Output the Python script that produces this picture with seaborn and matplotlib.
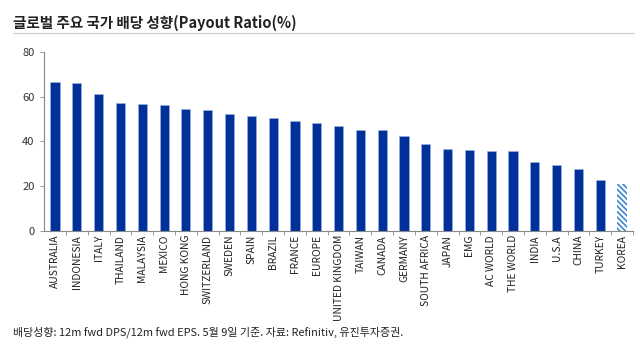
import matplotlib
matplotlib.use("Agg")
import matplotlib.pyplot as plt
import seaborn as sns
import numpy as np
import pandas as pd

countries = ["AUSTRALIA", "INDONESIA", "ITALY", "THAILAND", "MALAYSIA", "MEXICO",
             "HONG KONG", "SWITZERLAND", "SWEDEN", "SPAIN", "BRAZIL", "FRANCE",
             "EUROPE", "UNITED KINGDOM", "TAIWAN", "CANADA", "GERMANY",
             "SOUTH AFRICA", "JAPAN", "EMG", "AC WORLD", "THE WORLD", "INDIA",
             "U.S.A", "CHINA", "TURKEY", "KOREA"]
payout = [66.4, 66.0, 61.0, 57.2, 56.7, 56.1, 54.3, 53.9, 52.1, 51.5, 50.6, 49.0,
          48.3, 46.9, 45.2, 44.9, 42.3, 38.8, 36.6, 36.1, 35.7, 35.6, 30.9,
          29.3, 27.8, 22.6, 21.0]
yticks = [0, 20, 40, 60, 80]

title = "글로벌 주요 국가 배당 성향(Payout Ratio(%)"
footnote = "배당성향: 12m fwd DPS/12m fwd EPS. 5월 9일 기준. 자료: Refinitiv, 유진투자증권."

sns.set_theme(style="white")
plt.rcParams['font.family'] = ['Noto Sans CJK KR', 'DejaVu Sans']
plt.rcParams['hatch.linewidth'] = 1.2

navy = "#00309A"
df = pd.DataFrame({"country": countries, "payout": payout})

fig = plt.figure(figsize=(6.4, 3.46), dpi=100)
ax = fig.add_axes([0.069, 0.333, 0.920, 0.517])
sns.barplot(data=df, x="country", y="payout", color=navy, width=0.42,
            saturation=1, ax=ax, edgecolor="#9FB4E0", linewidth=0.4)

# Korea hatched bar
kp = ax.patches[-1]
kp.set_facecolor("white")
kp.set_hatch("\\\\\\\\\\\\")
kp.set_edgecolor("#3A86D0")
kp.set_linewidth(0)

ax.set_ylim(0, 80)
ax.set_xlim(-0.5, len(countries) - 0.5)
ax.set_yticks(yticks)
ax.set_xlabel("")
ax.set_ylabel("")
ax.tick_params(axis="y", labelsize=8, length=3, width=0.6, color="#888888",
               left=True, pad=4, labelcolor="#333333")
ax.tick_params(axis="x", labelsize=7.4, length=0, rotation=90, pad=3,
               labelcolor="#222222")
ax.set_xticks(np.arange(len(countries)) + 0.5, minor=True)
ax.tick_params(axis="x", which="minor", length=3, width=0.6, color="#888888",
               bottom=True)
for s in ["top", "right"]:
    ax.spines[s].set_visible(False)
for s in ["left", "bottom"]:
    ax.spines[s].set_color("#888888")
    ax.spines[s].set_linewidth(0.8)

fig.text(0.02, 0.935, title, fontsize=10.5, fontweight="bold", color="#222222",
         va="center", ha="left")
fig.add_artist(plt.Line2D([0.02, 0.99], [0.905, 0.905], color="#cccccc",
                          linewidth=0.8, transform=fig.transFigure))
fig.text(0.02, 0.04, footnote, fontsize=7.9, color="#222222", va="center",
         ha="left")

fig.savefig("out.png", dpi=100)
